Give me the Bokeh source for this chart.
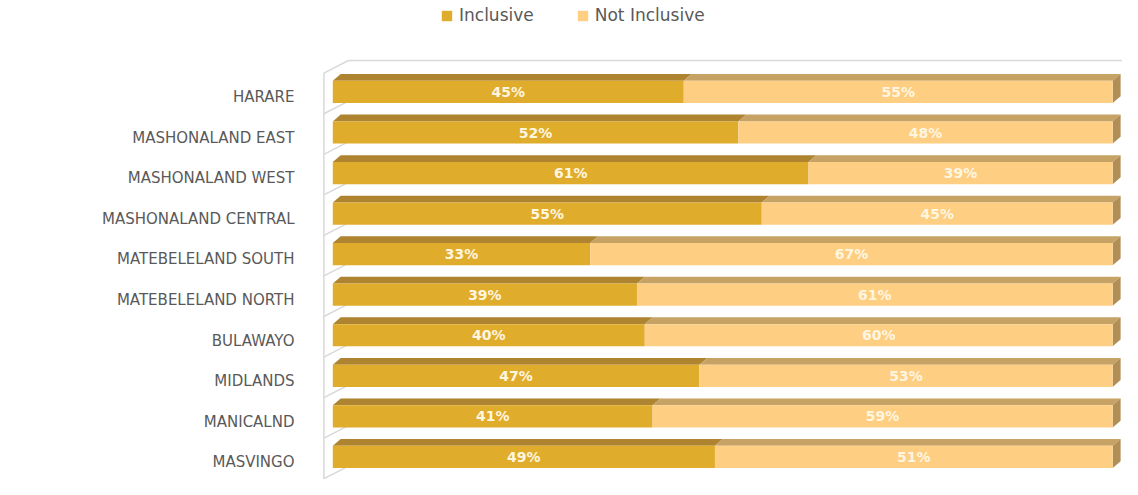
from bokeh.plotting import figure
from bokeh.models import Range1d, FixedTicker, Legend, LegendItem, ColumnDataSource
from bokeh.core.properties import value
from bokeh.embed import file_html
from bokeh.resources import INLINE

categories = ["HARARE", "MASHONALAND EAST", "MASHONALAND WEST", "MASHONALAND CENTRAL",
              "MATEBELELAND SOUTH", "MATEBELELAND NORTH", "BULAWAYO", "MIDLANDS",
              "MANICALND", "MASVINGO"]
inclusive = [45, 52, 61, 55, 33, 39, 40, 47, 41, 49]
not_inclusive = [55, 48, 39, 45, 67, 61, 60, 53, 59, 51]
series_names = ["Inclusive", "Not Inclusive"]

C_INC = "#E0AC2B"
C_INC_TOP = "#AE8430"
C_NOT = "#FECE83"
C_NOT_TOP = "#C6A265"
C_SIDE = "#B08E55"
C_WALL = "#D9D9D9"

n = len(categories)
ys = [n - 1 - i for i in range(n)]  # top row highest

W, H = 1122, 479
X0 = 332.3        # pixel of 0 %
PX_X = 7.799      # px per percent
Y_FIRST = 91.45   # pixel centre of first row
PX_Y = 40.55      # px per row
half = 11.1 / PX_Y
dx = 7.9 / PX_X
dy = 6.8 / PX_Y

left_border = 318
x_start = (left_border - X0) / PX_X
x_end = x_start + (W - left_border) / PX_X
y_top = (n - 1) + Y_FIRST / PX_Y
y_last = Y_FIRST + (n - 1) * PX_Y
y_bot = 0 - (H - y_last) / PX_Y

p = figure(width=W, height=H, output_backend="svg", toolbar_location=None,
           x_range=Range1d(x_start, x_end), y_range=Range1d(y_bot, y_top),
           x_axis_location=None, min_border_left=left_border, min_border_right=0,
           min_border_top=0, min_border_bottom=0, outline_line_color=None,
           background_fill_color="white", border_fill_color="white")
p.grid.visible = False

def px2y(py):
    return (n - 1) + (Y_FIRST - py) / PX_Y

# 3D walls
wall_x = (323.4 - X0) / PX_X
corner_top = px2y(60.0)
wall_top = px2y(72.6)
diag_dx = 24.6 / PX_X
diag_dy = 12.6 / PX_Y
p.line([wall_x, wall_x + diag_dx, x_end + 5], [wall_top, corner_top, corner_top],
       line_color=C_WALL, line_width=1.5)
p.line([wall_x, wall_x], [wall_top, y_bot - 1], line_color=C_WALL, line_width=1.5)
sep_xs, sep_ys = [], []
for y in ys:
    ysep = y - 21.8 / PX_Y
    sep_xs.append([wall_x, wall_x + diag_dx])
    sep_ys.append([ysep, ysep + diag_dy])
p.multi_line(sep_xs, sep_ys, line_color=C_WALL, line_width=1.5)

# top faces
def top_faces(lefts, rights):
    xs_, ys_ = [], []
    for a, b, y in zip(lefts, rights, ys):
        t = y + half
        xs_.append([a, b, b + dx, a + dx])
        ys_.append([t, t, t + dy, t + dy])
    return xs_, ys_

inc_l = [0] * n
inc_r = inclusive
not_l = inclusive
not_r = [a + b for a, b in zip(inclusive, not_inclusive)]

xs1, ys1 = top_faces(inc_l, inc_r)
p.patches(xs1, ys1, fill_color=C_INC_TOP, line_color=None)
xs2, ys2 = top_faces(not_l, not_r)
p.patches(xs2, ys2, fill_color=C_NOT_TOP, line_color=None)

# side faces
sxs, sys_ = [], []
for r, y in zip(not_r, ys):
    sxs.append([r, r + dx, r + dx, r])
    sys_.append([y + half, y + half + dy, y - half + dy, y - half])
p.patches(sxs, sys_, fill_color=C_SIDE, line_color=None)

# front faces
src = ColumnDataSource(dict(y=ys, top=[y + half for y in ys], bottom=[y - half for y in ys],
                            inc_l=inc_l, inc_r=inc_r, not_l=not_l, not_r=not_r,
                            inc_mid=[v / 2 for v in inclusive],
                            not_mid=[a + b / 2 for a, b in zip(inclusive, not_inclusive)],
                            inc_txt=[f"{v}%" for v in inclusive],
                            not_txt=[f"{v}%" for v in not_inclusive]))
r1 = p.quad(left="inc_l", right="inc_r", top="top", bottom="bottom", source=src,
            fill_color=C_INC, line_color=None)
r2 = p.quad(left="not_l", right="not_r", top="top", bottom="bottom", source=src,
            fill_color=C_NOT, line_color=None)

for xcol, tcol in (("inc_mid", "inc_txt"), ("not_mid", "not_txt")):
    p.text(x=xcol, y="y", text=tcol, source=src, text_align="center",
           text_baseline="middle", text_color="#FFF6E0", text_font_size="14px",
           text_font=value("DejaVu Sans"), text_font_style="bold")

# axis labels
offset = 5.3 / PX_Y
ticks = [y - offset for y in ys]
ax = p.yaxis[0]
ax.ticker = FixedTicker(ticks=ticks)
ax.major_label_overrides = {t: c for t, c in zip(ticks, categories)}
ax.axis_line_color = None
ax.major_tick_line_color = None
ax.minor_tick_line_color = None
ax.major_label_standoff = left_border - 300
ax.major_label_text_font = "DejaVu Sans"
ax.major_label_text_font_size = "15px"
ax.major_label_text_color = "#595959"

legend = Legend(items=[LegendItem(label=series_names[0], renderers=[r1]),
                       LegendItem(label=series_names[1], renderers=[r2])],
                orientation="horizontal", location=(440 - left_border, H - 25),
                glyph_width=13, glyph_height=13, label_height=20,
                label_text_font="DejaVu Sans", label_text_font_size="17px",
                label_text_color="#595959", label_standoff=6, spacing=42,
                padding=0, margin=0, border_line_color=None,
                background_fill_alpha=0)
p.add_layout(legend, "center")

open("out.html", "w").write(file_html(p, INLINE))
